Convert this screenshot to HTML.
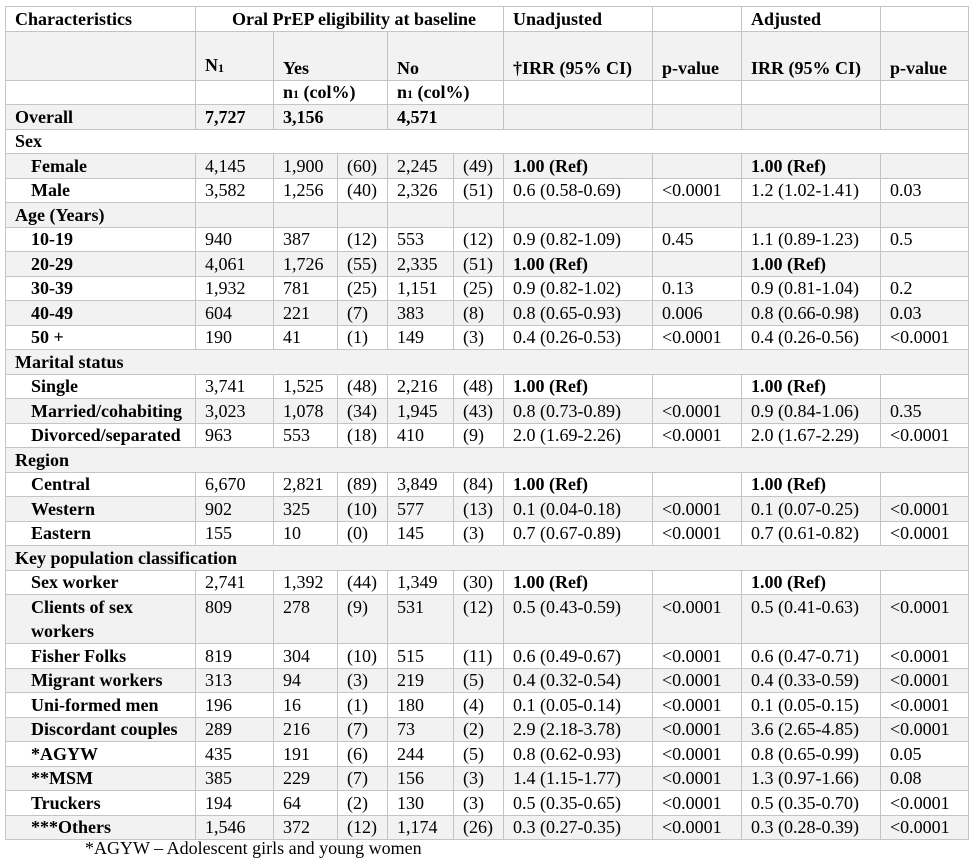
<!DOCTYPE html>
<html><head><meta charset="utf-8">
<style>
body{margin:0;background:#fff;width:974px;height:847px;overflow:hidden;position:relative;}
table{position:absolute;left:5px;top:6px;border-collapse:collapse;table-layout:fixed;font-family:"Liberation Serif",serif;font-size:18px;color:#000;}
td{border:1px solid #c4c4c4;padding:0 0 0 9px;white-space:nowrap;overflow:hidden;vertical-align:middle;line-height:20px;}
tr{height:24.5px;}
tr.g td{background:#f2f2f2;}
.b{font-weight:bold;}
.i{padding-left:25px;font-weight:bold;}
.bot td{vertical-align:bottom;padding-bottom:2px;}
.foot{position:absolute;left:85px;top:838px;font-family:"Liberation Serif",serif;font-size:18px;}
sub,.s{font-size:12px;}
.t td{vertical-align:top;line-height:24px;}
</style></head><body>
<table>
<colgroup><col style="width:190px"><col style="width:78px"><col style="width:64px"><col style="width:50px"><col style="width:66px"><col style="width:50px"><col style="width:149px"><col style="width:89px"><col style="width:139px"><col style="width:88px"></colgroup>
<tr style="height:25px"><td class="b">Characteristics</td><td colspan="5" style="text-align:center" class="b">Oral PrEP eligibility at baseline</td><td class="b">Unadjusted</td><td></td><td class="b">Adjusted</td><td></td></tr>
<tr class="g bot" style="height:49px"><td></td><td class="b">N<sub style="vertical-align:-1px">1</sub></td><td colspan="2" class="b">Yes</td><td colspan="2" class="b">No</td><td class="b">†IRR (95% CI)</td><td class="b">p-value</td><td class="b">IRR (95% CI)</td><td class="b">p-value</td></tr>
<tr style="height:24px"><td></td><td></td><td colspan="2" class="b">n<span class="s">1</span> (col%)</td><td colspan="2" class="b">n<span class="s">1</span> (col%)</td><td></td><td></td><td></td><td></td></tr>
<tr class="g"><td class="b">Overall</td><td class="b">7,727</td><td colspan="2" class="b">3,156</td><td colspan="2" class="b">4,571</td><td></td><td></td><td></td><td></td></tr>
<tr><td colspan="10" class="b">Sex</td></tr>
<tr class="g"><td class="i">Female</td><td>4,145</td><td>1,900</td><td>(60)</td><td>2,245</td><td>(49)</td><td class="b">1.00 (Ref)</td><td></td><td class="b">1.00 (Ref)</td><td></td></tr>
<tr><td class="i">Male</td><td>3,582</td><td>1,256</td><td>(40)</td><td>2,326</td><td>(51)</td><td>0.6 (0.58-0.69)</td><td>&lt;0.0001</td><td>1.2 (1.02-1.41)</td><td>0.03</td></tr>
<tr class="g"><td class="b">Age (Years)</td><td></td><td></td><td></td><td></td><td></td><td></td><td></td><td></td><td></td></tr>
<tr><td class="i">10-19</td><td>940</td><td>387</td><td>(12)</td><td>553</td><td>(12)</td><td>0.9 (0.82-1.09)</td><td>0.45</td><td>1.1 (0.89-1.23)</td><td>0.5</td></tr>
<tr class="g"><td class="i">20-29</td><td>4,061</td><td>1,726</td><td>(55)</td><td>2,335</td><td>(51)</td><td class="b">1.00 (Ref)</td><td></td><td class="b">1.00 (Ref)</td><td></td></tr>
<tr><td class="i">30-39</td><td>1,932</td><td>781</td><td>(25)</td><td>1,151</td><td>(25)</td><td>0.9 (0.82-1.02)</td><td>0.13</td><td>0.9 (0.81-1.04)</td><td>0.2</td></tr>
<tr class="g"><td class="i">40-49</td><td>604</td><td>221</td><td>(7)</td><td>383</td><td>(8)</td><td>0.8 (0.65-0.93)</td><td>0.006</td><td>0.8 (0.66-0.98)</td><td>0.03</td></tr>
<tr><td class="i">50 +</td><td>190</td><td>41</td><td>(1)</td><td>149</td><td>(3)</td><td>0.4 (0.26-0.53)</td><td>&lt;0.0001</td><td>0.4 (0.26-0.56)</td><td>&lt;0.0001</td></tr>
<tr class="g"><td colspan="10" class="b">Marital status</td></tr>
<tr><td class="i">Single</td><td>3,741</td><td>1,525</td><td>(48)</td><td>2,216</td><td>(48)</td><td class="b">1.00 (Ref)</td><td></td><td class="b">1.00 (Ref)</td><td></td></tr>
<tr class="g"><td class="i">Married/cohabiting</td><td>3,023</td><td>1,078</td><td>(34)</td><td>1,945</td><td>(43)</td><td>0.8 (0.73-0.89)</td><td>&lt;0.0001</td><td>0.9 (0.84-1.06)</td><td>0.35</td></tr>
<tr><td class="i">Divorced/separated</td><td>963</td><td>553</td><td>(18)</td><td>410</td><td>(9)</td><td>2.0 (1.69-2.26)</td><td>&lt;0.0001</td><td>2.0 (1.67-2.29)</td><td>&lt;0.0001</td></tr>
<tr class="g"><td colspan="10" class="b">Region</td></tr>
<tr><td class="i">Central</td><td>6,670</td><td>2,821</td><td>(89)</td><td>3,849</td><td>(84)</td><td class="b">1.00 (Ref)</td><td></td><td class="b">1.00 (Ref)</td><td></td></tr>
<tr class="g"><td class="i">Western</td><td>902</td><td>325</td><td>(10)</td><td>577</td><td>(13)</td><td>0.1 (0.04-0.18)</td><td>&lt;0.0001</td><td>0.1 (0.07-0.25)</td><td>&lt;0.0001</td></tr>
<tr><td class="i">Eastern</td><td>155</td><td>10</td><td>(0)</td><td>145</td><td>(3)</td><td>0.7 (0.67-0.89)</td><td>&lt;0.0001</td><td>0.7 (0.61-0.82)</td><td>&lt;0.0001</td></tr>
<tr class="g"><td colspan="10" class="b">Key population classification</td></tr>
<tr><td class="i">Sex worker</td><td>2,741</td><td>1,392</td><td>(44)</td><td>1,349</td><td>(30)</td><td class="b">1.00 (Ref)</td><td></td><td class="b">1.00 (Ref)</td><td></td></tr>
<tr class="g t" style="height:49px"><td class="i" style="white-space:normal">Clients of sex workers</td><td>809</td><td>278</td><td>(9)</td><td>531</td><td>(12)</td><td>0.5 (0.43-0.59)</td><td>&lt;0.0001</td><td>0.5 (0.41-0.63)</td><td>&lt;0.0001</td></tr>
<tr><td class="i">Fisher Folks</td><td>819</td><td>304</td><td>(10)</td><td>515</td><td>(11)</td><td>0.6 (0.49-0.67)</td><td>&lt;0.0001</td><td>0.6 (0.47-0.71)</td><td>&lt;0.0001</td></tr>
<tr class="g"><td class="i">Migrant workers</td><td>313</td><td>94</td><td>(3)</td><td>219</td><td>(5)</td><td>0.4 (0.32-0.54)</td><td>&lt;0.0001</td><td>0.4 (0.33-0.59)</td><td>&lt;0.0001</td></tr>
<tr><td class="i">Uni-formed men</td><td>196</td><td>16</td><td>(1)</td><td>180</td><td>(4)</td><td>0.1 (0.05-0.14)</td><td>&lt;0.0001</td><td>0.1 (0.05-0.15)</td><td>&lt;0.0001</td></tr>
<tr class="g"><td class="i">Discordant couples</td><td>289</td><td>216</td><td>(7)</td><td>73</td><td>(2)</td><td>2.9 (2.18-3.78)</td><td>&lt;0.0001</td><td>3.6 (2.65-4.85)</td><td>&lt;0.0001</td></tr>
<tr><td class="i">*AGYW</td><td>435</td><td>191</td><td>(6)</td><td>244</td><td>(5)</td><td>0.8 (0.62-0.93)</td><td>&lt;0.0001</td><td>0.8 (0.65-0.99)</td><td>0.05</td></tr>
<tr class="g"><td class="i">**MSM</td><td>385</td><td>229</td><td>(7)</td><td>156</td><td>(3)</td><td>1.4 (1.15-1.77)</td><td>&lt;0.0001</td><td>1.3 (0.97-1.66)</td><td>0.08</td></tr>
<tr><td class="i">Truckers</td><td>194</td><td>64</td><td>(2)</td><td>130</td><td>(3)</td><td>0.5 (0.35-0.65)</td><td>&lt;0.0001</td><td>0.5 (0.35-0.70)</td><td>&lt;0.0001</td></tr>
<tr class="g"><td class="i">***Others</td><td>1,546</td><td>372</td><td>(12)</td><td>1,174</td><td>(26)</td><td>0.3 (0.27-0.35)</td><td>&lt;0.0001</td><td>0.3 (0.28-0.39)</td><td>&lt;0.0001</td></tr>
</table>
<div class="foot">*AGYW – Adolescent girls and young women</div>
</body></html>
